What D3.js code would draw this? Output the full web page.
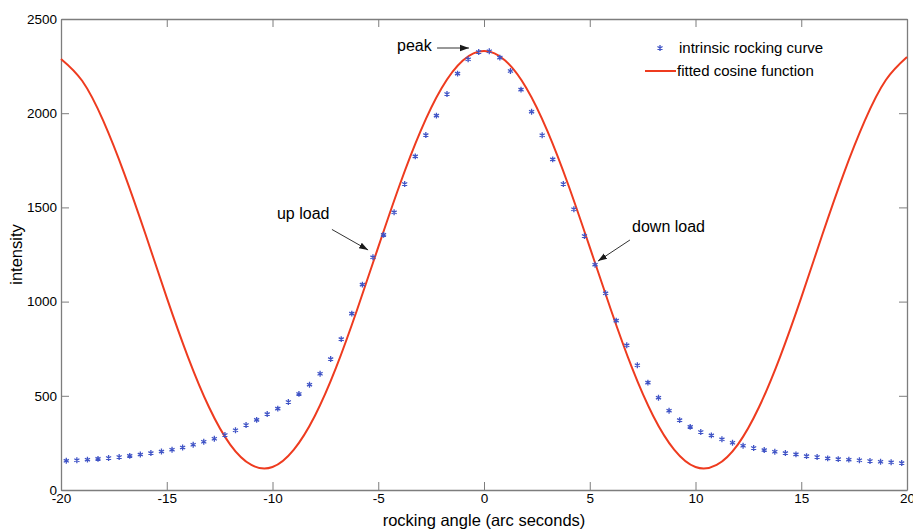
<!DOCTYPE html>
<html>
<head>
<meta charset="utf-8">
<script src="https://cdn.jsdelivr.net/npm/d3@7"></script>
<style>
  body { margin: 0; background: #fff; }
  text { font-family: "Liberation Sans", Arial, sans-serif; }
</style>
</head>
<body>
<div id="chart"></div>
<script>
// measured rocking curve (stars)
const rockingAngle = [-19.75, -19.25, -18.75, -18.25, -17.75, -17.25, -16.75, -16.25, -15.75, -15.25,
  -14.75, -14.25, -13.75, -13.25, -12.75, -12.25, -11.75, -11.25, -10.75, -10.25,
  -9.75, -9.25, -8.75, -8.25, -7.75, -7.25, -6.75, -6.25, -5.75, -5.25,
  -4.75, -4.25, -3.75, -3.25, -2.75, -2.25, -1.75, -1.25, -0.75, -0.25,
  0.25, 0.75, 1.25, 1.75, 2.25, 2.75, 3.25, 3.75, 4.25, 4.75,
  5.25, 5.75, 6.25, 6.75, 7.25, 7.75, 8.25, 8.75, 9.25, 9.75,
  10.25, 10.75, 11.25, 11.75, 12.25, 12.75, 13.25, 13.75, 14.25, 14.75,
  15.25, 15.75, 16.25, 16.75, 17.25, 17.75, 18.25, 18.75, 19.25, 19.75];
const rockingIntensity = [155, 158, 161, 165, 170, 175, 181, 188, 196, 204,
  214, 226, 240, 256, 272, 292, 317, 345, 372, 403,
  432, 467, 510, 559, 617, 695, 801, 936, 1090, 1235,
  1354, 1474, 1624, 1771, 1884, 1987, 2102, 2210, 2286, 2325,
  2329, 2295, 2224, 2125, 2008, 1883, 1755, 1624, 1490, 1348,
  1196, 1044, 899, 768, 662, 570, 490, 421, 371, 335,
  308, 290, 269, 251, 235, 223, 212, 203, 196, 189,
  180, 175, 168, 164, 161, 158, 154, 150, 147, 143];

// fitted cosine, read at whole arc seconds
const fitAngle = [-20, -19, -18, -17, -16, -15, -14, -13, -12, -11, -10, -9, -8, -7, -6, -5, -4, -3, -2, -1,
  0, 1, 2, 3, 4, 5, 6, 7, 8, 9, 10, 11, 12, 13, 14, 15, 16, 17, 18, 19, 20];
const fitIntensity = [2288, 2172, 1959, 1677, 1356, 1021, 707, 439, 241, 133, 122, 213, 393, 648, 957, 1289, 1615, 1905, 2134, 2280,
  2330, 2280, 2134, 1905, 1615, 1289, 957, 648, 393, 213, 122, 133, 241, 439, 707, 1021, 1356, 1677, 1959, 2176, 2298];

const xTicks = [-20, -15, -10, -5, 0, 5, 10, 15, 20];
const yTicks = [0, 500, 1000, 1500, 2000, 2500];

const annotations = [
  {label: 'peak', tx: -4.11, ty: 2330, from: [-2.22, 2346], to: [-0.71, 2346]},
  {label: 'up load', tx: -9.79, ty: 1438, from: [-7.19, 1383], to: [-5.48, 1274]},
  {label: 'down load', tx: 7.0, ty: 1369, from: [6.9, 1327], to: [5.39, 1215]}
];

let margin = {top: 19, right: 6, bottom: 41, left: 61};
let width = 913 - margin.left - margin.right;
let height = 531 - margin.top - margin.bottom;

const axisColor = '#7d7d7d';
const starColor = '#4054c6';
const fitColor = '#ee3b1f';
const plainNumber = d => String(d);

let svg = d3.select('#chart')
  .append('svg')
  .attr('width', 913)
  .attr('height', 531);

let defs = svg.append('defs');
defs.append('marker')
  .attr('id', 'arrow')
  .attr('viewBox', '0 0 10 10')
  .attr('refX', 10)
  .attr('refY', 5)
  .attr('markerUnits', 'userSpaceOnUse')
  .attr('markerWidth', 9)
  .attr('markerHeight', 9)
  .attr('orient', 'auto')
  .append('path')
    .attr('d', 'M0,1.5 L10,5 L0,8.5 Z')
    .attr('fill', '#1a1a1a');

let g = svg.append('g')
  .attr('transform', 'translate(' + margin.left + ',' + margin.top + ')');

let x = d3.scaleLinear().domain([-20, 20]).range([0, width]);
let y = d3.scaleLinear().domain([0, 2500]).range([height, 0]);

// axes, MATLAB style: ticks point inward, box all round
const styleAxis = sel => {
  sel.select('.domain').attr('stroke', axisColor).attr('stroke-width', 1.3);
  sel.selectAll('.tick line').attr('stroke', axisColor).attr('stroke-width', 1);
  sel.selectAll('.tick text')
    .attr('fill', '#000')
    .style('font-size', '13.5px')
    .style('font-family', '"Liberation Sans", Arial, sans-serif');
};

g.append('g')
  .attr('transform', 'translate(0,' + height + ')')
  .call(d3.axisBottom(x).tickValues(xTicks).tickFormat(plainNumber).tickSize(-8).tickSizeOuter(0).tickPadding(3))
  .call(styleAxis);

g.append('g')
  .call(d3.axisLeft(y).tickValues(yTicks).tickFormat(plainNumber).tickSize(-8).tickSizeOuter(0).tickPadding(4))
  .call(styleAxis);

g.append('g')
  .call(d3.axisTop(x).tickValues(xTicks).tickSize(-8).tickSizeOuter(0).tickFormat(''))
  .call(styleAxis);

g.append('g')
  .attr('transform', 'translate(' + width + ',0)')
  .call(d3.axisRight(y).tickValues(yTicks).tickSize(-8).tickSizeOuter(0).tickFormat(''))
  .call(styleAxis);

// axis titles
svg.append('text')
  .attr('x', margin.left + width / 2)
  .attr('y', 526)
  .attr('text-anchor', 'middle')
  .style('font-size', '16.5px')
  .text('rocking angle (arc seconds)');

svg.append('text')
  .attr('transform', 'translate(22,' + (margin.top + height / 2) + ') rotate(-90)')
  .attr('text-anchor', 'middle')
  .style('font-size', '16.5px')
  .text('intensity');

// fitted cosine
const fitData = fitAngle.map((a, i) => ({a: a, v: fitIntensity[i]}));
const line = d3.line()
  .x(d => x(d.a))
  .y(d => y(d.v))
  .curve(d3.curveNatural);

g.append('path')
  .datum(fitData)
  .attr('fill', 'none')
  .attr('stroke', fitColor)
  .attr('stroke-width', 2)
  .attr('d', line);

// stars
const starData = rockingAngle.map((a, i) => ({a: a, v: rockingIntensity[i]}));
const star = d3.symbol().type(d3.symbolAsterisk).size(24);

g.selectAll('path.star')
  .data(starData)
  .enter()
  .append('path')
    .attr('class', 'star')
    .attr('transform', d => 'translate(' + x(d.a) + ',' + y(d.v) + ')')
    .attr('d', star)
    .attr('fill', 'none')
    .attr('stroke', starColor)
    .attr('stroke-width', 1.3);

// annotations
annotations.forEach(an => {
  g.append('text')
    .attr('x', x(an.tx))
    .attr('y', y(an.ty))
    .style('font-size', '16px')
    .attr('fill', '#000')
    .text(an.label);
  g.append('line')
    .attr('x1', x(an.from[0]))
    .attr('y1', y(an.from[1]))
    .attr('x2', x(an.to[0]))
    .attr('y2', y(an.to[1]))
    .attr('stroke', '#333')
    .attr('stroke-width', 1)
    .attr('marker-end', 'url(#arrow)');
});

// legend
let legend = g.append('g')
  .attr('transform', 'translate(' + (645 - margin.left) + ',' + (48 - margin.top) + ')');

legend.append('path')
  .attr('transform', 'translate(15,0)')
  .attr('d', star)
  .attr('fill', 'none')
  .attr('stroke', starColor)
  .attr('stroke-width', 1.3);
legend.append('text')
  .attr('x', 34)
  .attr('y', 0)
  .attr('dy', '0.35em')
  .style('font-size', '15px')
  .text('intrinsic rocking curve');

legend.append('line')
  .attr('x1', 0)
  .attr('x2', 31)
  .attr('y1', 23)
  .attr('y2', 23)
  .attr('stroke', fitColor)
  .attr('stroke-width', 2);
legend.append('text')
  .attr('x', 32)
  .attr('y', 23)
  .attr('dy', '0.35em')
  .style('font-size', '15px')
  .text('fitted cosine function');
</script>
</body>
</html>
